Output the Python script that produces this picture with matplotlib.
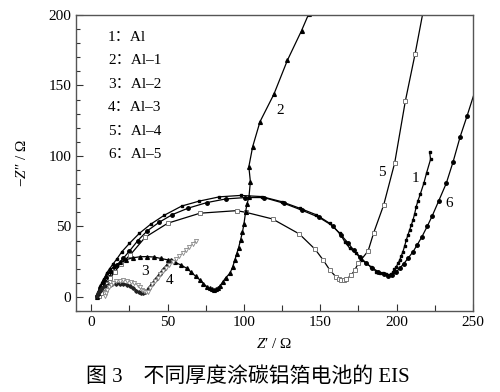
import matplotlib
matplotlib.use("Agg")
import matplotlib.pyplot as plt
from matplotlib.ticker import MultipleLocator

plt.rcParams["font.family"] = ["Liberation Serif", "Noto Sans CJK SC"]
plt.rcParams["mathtext.fontset"] = "custom"
plt.rcParams["mathtext.rm"] = "Liberation Serif"
plt.rcParams["mathtext.it"] = "Liberation Serif:italic"

# EIS data (Z' , -Z'')
# 1: Al
x1 = [4, 5, 6, 7, 8.5, 10, 12, 14, 16.8, 20, 25, 31.4, 38.8, 47.9, 59.3, 70.8, 83.9, 97.8,
      111.5, 124.6, 136.6, 147.5, 156.2, 162.7, 166, 169.3, 173.6, 176.9, 180.2, 183.5, 186.7,
      189, 191, 193, 194.3, 195.5, 196.5, 197.5, 198.5, 199.8, 201, 202, 203, 204.1, 205.2,
      206.3, 207.4, 208.5, 209.6, 210.7, 211.8, 212.8, 213.9, 215.5, 217.9, 219.6, 222.2, 221.6]
y1 = [0.5, 3, 6, 9.7, 13, 16.8, 20, 23, 27, 32, 38, 45, 51.5, 58, 64.5, 68, 71, 72,
      71.2, 67.6, 62.9, 58.2, 52.2, 45.2, 39.2, 34.5, 31, 26.2, 23.9, 21, 18,
      17, 16.8, 16, 15.6, 15.5, 16, 17.5, 19.5, 21.5, 24, 26.2, 29, 32.1, 36,
      40.4, 44, 47.5, 51, 54.6, 59, 64, 68, 73, 81, 88, 97.6, 103]

# 2: Al-1
x2 = [4, 4.5, 5, 6, 7.5, 9.5, 12, 15, 19, 23, 27.5, 32, 36.4, 41, 45.5, 50.5, 55, 59, 62.5,
      65.5, 68.5, 71.2, 73.5, 75.6, 77.5, 79, 80.5, 82, 83.2, 84.3, 86, 88, 90.8, 92.5, 94,
      95.2, 96.5, 97.8, 99, 100, 101.1, 102, 103.3, 104.2, 103.2, 105.7, 110.5, 119.6, 128.5,
      137.7, 142.5]
y2 = [0, 2.5, 5, 8, 11.5, 15, 18.5, 22, 24.5, 26.5, 27.8, 28.5, 28.6, 28.3, 27.3, 26.2, 24.5,
      22.5, 20.3, 17.5, 14.5, 12, 9.5, 7.3, 6.2, 5.5, 5.2, 5.5, 6.5, 7.8, 10.5, 13.5, 16.8, 21,
      26, 30.5, 35, 40.5, 46, 51.8, 60.5, 66, 71.1, 81.8, 92.4, 106.6, 124.3, 143.8, 168,
      188.9, 201]

# 3: Al-2
x3 = [4, 4.5, 5.5, 7, 9, 11, 13.5, 16, 18.5, 21, 23.3, 25.5, 27.5, 29.5, 31, 32.5, 34, 35.5,
      37.5, 40, 42.5, 45, 47.5, 50, 52.5]
y3 = [0.5, 2.5, 4.5, 6.3, 7.6, 8.4, 9, 9.4, 9.5, 9.3, 8.7, 7.5, 6, 4.5, 3.3, 2.6, 2.5, 3.5,
      6, 9.5, 13, 16.5, 20, 23, 26]

# 4: Al-3
x4 = [9, 9.6, 10.4, 11.4, 12.6, 14, 16, 18.5, 21, 23.5, 26, 28.3, 30.3, 32, 33.5, 34.8, 36,
      37.2, 38.5, 40, 41.7, 43.5, 45.3, 47.2, 49.2, 51.2, 53.3, 55.4, 57.6, 59.8, 62, 64.2,
      66.3, 68.3]
y4 = [1, 3, 5, 7, 8.7, 10, 11, 11.6, 11.8, 11.5, 10.8, 9.7, 8.3, 6.7, 5.2, 4, 3.4, 3.6,
      6.5, 9, 11.3, 13.6, 16, 18.2, 20.4, 22.5, 24.7, 26.8, 29, 31.2, 33.4, 35.6, 37.8, 40]

# 5: Al-4
x5 = [5, 6.5, 8, 10, 12.5, 15.5, 19.5, 25.5, 35.3, 50.1, 71.2, 95.2, 101.3, 118.7, 136.2,
      146.6, 152, 156.2, 160.1, 162, 163.8, 165.5, 167.1, 170.4, 172.5, 175, 181.3, 185,
      191.5, 198.7, 205.7, 212, 219]
y5 = [0.5, 3, 6, 9.5, 13.5, 18, 23.5, 29.8, 42.3, 52.3, 59.4, 61.2, 60, 55.3, 44.7,
      33.8, 26, 19.1, 14.4, 13, 12, 12, 12.5, 15.6, 19, 24, 32.6, 45.6,
      65.2, 95, 139, 172, 212]

# 6: Al-5
x6 = [4, 5.5, 7, 9, 11.5, 14, 17, 21, 25, 30.5, 36.6, 44.5, 53.1, 63.5, 75.6, 88, 101, 113,
      126, 138, 149, 158, 163.5, 168, 172, 176, 180, 184, 188, 191.5, 194.5, 197, 199.5, 202,
      204.6, 207.5, 210.7, 213.5, 216.6, 220, 223.3, 227.5, 232.5, 237, 241.6, 246, 251]
y6 = [0.5, 3, 6, 10, 14, 18, 22.5, 27.5, 32.5, 40, 46.8, 53, 58.4, 63, 66.9, 69.5, 70.5,
      70.5, 66.5, 61.5, 56.5, 50.5, 44, 38.5, 33, 28.5, 24, 20.5, 18, 16, 15, 15.5, 17.5, 20.3,
      23.5, 27.5, 32, 37, 42.8, 50, 57.5, 68, 80.6, 96, 113.7, 128, 145]

legend_lines = ["1：Al", "2：Al–1", "3：Al–2", "4：Al–3", "5：Al–4", "6：Al–5"]

fig = plt.figure(figsize=(5, 3.92), dpi=100)
ax = fig.add_axes([0.152, 0.2066, 0.794, 0.7551])

ax.plot(x1, y1, color="black", lw=0.9, marker="s", ms=2.1, mfc="black", mec="black")
ax.plot(x6, y6, color="black", lw=0.9, marker="o", ms=2.5, mfc="black", mec="black")
ax.plot(x5, y5, color="black", lw=0.9, marker="s", ms=2.6, mfc="white", mec="#777777", mew=0.7)
ax.plot(x2, y2, color="black", lw=0.9, marker="^", ms=2.7, mfc="black", mec="black")
ax.plot(x3, y3, color="#222222", lw=1.6, marker="D", ms=1.8, mfc="#222222", mec="#222222")
ax.plot(x4, y4, color="#999999", lw=0.6, marker="v", ms=3.0, mfc="white", mec="#888888", mew=0.6)

for i, t in enumerate(legend_lines):
    ax.text(11, 184 - i * 16.6, t, fontsize=11, va="center", ha="left")

# curve labels
ax.text(123.5, 132, "2", fontsize=11, ha="center", va="center")
ax.text(190.5, 88, "5", fontsize=11, ha="center", va="center")
ax.text(212.2, 84, "1", fontsize=11, ha="center", va="center")
ax.text(234.2, 66, "6", fontsize=11, ha="center", va="center")
ax.text(35.3, 18, "3", fontsize=11, ha="center", va="center")
ax.text(51.6, 12, "4", fontsize=11, ha="center", va="center")

ax.set_xlim(-10, 250)
ax.set_ylim(-10, 200)
ax.xaxis.set_major_locator(MultipleLocator(50))
ax.xaxis.set_minor_locator(MultipleLocator(25))
ax.yaxis.set_major_locator(MultipleLocator(50))
ax.yaxis.set_minor_locator(MultipleLocator(10))
ax.tick_params(which="both", direction="in", labelsize=11, width=0.8, color="#333333")
ax.tick_params(which="major", length=5)
ax.tick_params(which="minor", length=3)
ax.tick_params(axis="x", which="minor", length=4)
for s in ax.spines.values():
    s.set_color("#555555")
    s.set_linewidth(1.0)

ax.set_xlabel("$Z$′ / Ω", fontsize=11, labelpad=6)
ax.set_ylabel("−$Z$″ / Ω", fontsize=11, labelpad=14)

fig.text(0.496, 0.038, "图 3　不同厚度涂碳铝箔电池的 EIS", fontsize=15,
         ha="center", va="center")

fig.savefig("out.png", dpi=100)
